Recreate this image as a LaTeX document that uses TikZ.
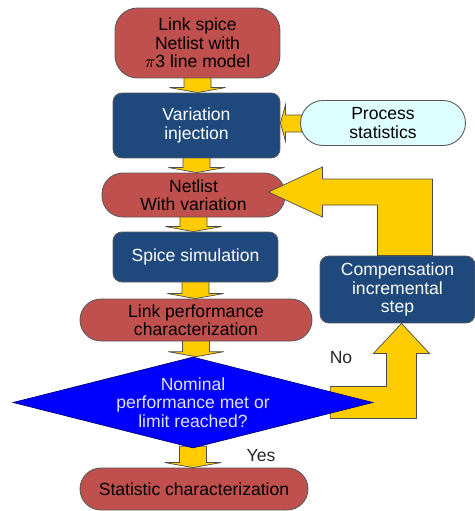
\documentclass[tikz,border=0pt]{standalone}
\usepackage{fontspec}
\setmainfont{Liberation Sans}
\usetikzlibrary{shapes.geometric,calc,backgrounds}

\definecolor{boxred}{RGB}{192,80,77}
\definecolor{boxblue}{RGB}{31,73,125}
\definecolor{lightcyan}{RGB}{222,255,255}
\definecolor{arrowyellow}{RGB}{255,204,0}
\definecolor{decblue}{RGB}{0,0,255}

\tikzset{
  base/.style={draw=black!65, line width=0.5pt, align=center, inner sep=2pt,
    font=\fontsize{10}{10.5}\selectfont},
  redbox/.style={base, fill=boxred, text=black, rounded corners=0.42cm},
  bluebox/.style={base, fill=boxblue, text=white, rounded corners=0.18cm},
  statbox/.style={base, fill=lightcyan, text=black, rounded corners=0.45cm},
  decision/.style={diamond, draw=blue!50!black, line width=0.4pt, fill=decblue,
    minimum width=7.2cm, minimum height=1.82cm, inner sep=0pt},
  dectext/.style={align=center, text=blue!12!white, font=\fontsize{10}{10.5}\selectfont},
  yarrow/.style={fill=arrowyellow, draw=black!70, line width=0.4pt},
  answer/.style={font=\fontsize{10}{10.5}\selectfont, text=black!85},
}

% short yellow block arrow between two stacked nodes
\newcommand{\yarrow}[2]{%
  \draw[yarrow] ($(#1.south)+(-13.5,-2)$) -- ($(#1.south |- #2.north)+(-13.5,-5)$)
    -- ++(-14.5,0) -- (#1.south |- #2.north) -- ++(28,-5) -- ++(-14.5,0)
    -- ($(#1.south)+(13.5,-2)$) -- cycle;}

\begin{document}
\begin{tikzpicture}[x=0.02cm, y=-0.02cm]
  \useasboundingbox (0,0) rectangle (475,511);

  \node[redbox, minimum width=3.3cm, minimum height=1.4cm, rounded corners=0.45cm]
    (spice) at (197.5,43) {Link spice\\Netlist with\\$\pi$3 line model};
  \node[bluebox, minimum width=3.34cm, minimum height=1.3cm]
    (var) at (196.5,125.5) {Variation\\injection};
  \node[statbox, minimum width=3.3cm, minimum height=0.9cm]
    (proc) at (383,123) {Process\\statistics};
  \node[redbox, minimum width=3.66cm, minimum height=0.88cm]
    (netv) at (193.5,195) {Netlist\\With variation};
  \node[bluebox, minimum width=3.3cm, minimum height=1cm]
    (sim) at (195.5,257) {Spice simulation};
  \node[redbox, minimum width=4.64cm, minimum height=0.84cm]
    (perf) at (196,320) {Link performance\\characterization};
  \node[decision, label={[dectext]center:Nominal\\performance met or\\limit reached?}]
    (dec) at (193,402.5) {};
  \node[redbox, minimum width=4.56cm, minimum height=0.84cm]
    (stat) at (194,489) {Statistic characterization};
  \node[bluebox, minimum width=3.1cm, minimum height=1.34cm]
    (comp) at (397.5,289.5) {Compensation\\incremental\\step};

  \node[answer] (no) at (341,358) {No};
  \node[answer] (yes) at (261,456) {Yes};

  \begin{pgfonlayer}{background}
    \yarrow{spice}{var}
    \yarrow{var}{netv}
    \yarrow{netv}{sim}
    \yarrow{sim}{perf}
    \yarrow{perf}{dec}
    \yarrow{dec}{stat}
    % from process statistics into variation injection
    \draw[yarrow] ($(proc.west)+(2,-8)$) -- ($(var.east |- proc.west)+(5,-8)$)
      -- ++(0,-10) -- (var.east |- proc.west) -- ++(5,18) -- ++(0,-9)
      -- ($(proc.west)+(2,9)$) -- cycle;
    % "No" branch up to the compensation step
    \coordinate (notip) at ($(comp.south)+(4,0)$);
    \draw[yarrow] ($(dec.east)+(-43,-16)$) -- ++(0,32) -| ($(notip)+(15,30)$)
      -- ++(13,0) -- (notip) -- ++(-28,30) -- ++(13,0) |- ($(dec.east)+(-43,-16)$)
      -- cycle;
  \end{pgfonlayer}

  % loop back to the netlist
  \coordinate (backtip) at ($(netv.east)+(-17,-3)$);
  \draw[yarrow] ($(comp.north)+(-20,0)$) |- ($(backtip)+(54,13)$) -- ++(0,12)
    -- (backtip) -- ++(54,-25) -- ++(0,12) -| ($(comp.north)+(35,0)$) -- cycle;
\end{tikzpicture}
\end{document}
